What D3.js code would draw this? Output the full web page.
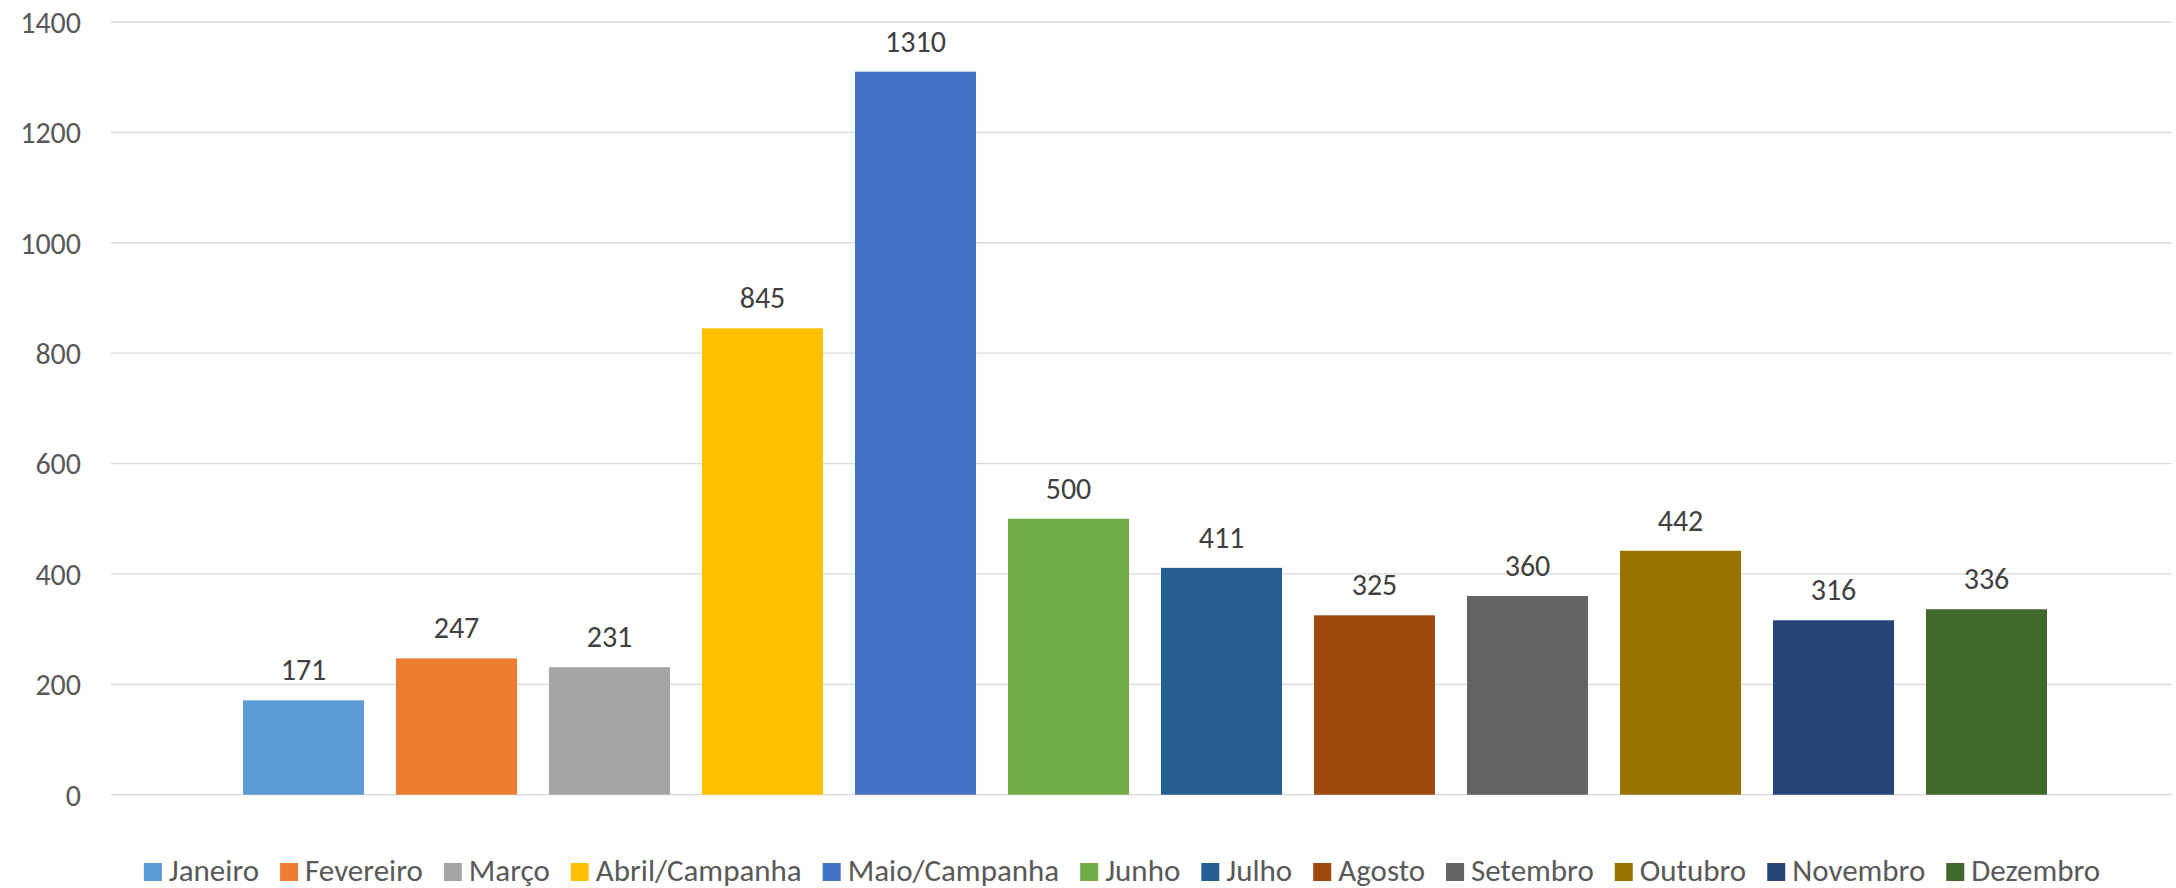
<!DOCTYPE html>
<html>
<head>
<meta charset="utf-8">
<script src="https://cdn.jsdelivr.net/npm/d3@7"></script>
<style>
    body { margin: 0; background: #fff; }
    svg { display: block; font-family: Carlito, Calibri, Lato, sans-serif; }
</style>
</head>
<body>
<svg width="2176" height="888"></svg>
<script>
const MONTHS = ['Janeiro', 'Fevereiro', 'Março', 'Abril/Campanha', 'Maio/Campanha', 'Junho',
    'Julho', 'Agosto', 'Setembro', 'Outubro', 'Novembro', 'Dezembro'];
const VALUES = [171, 247, 231, 845, 1310, 500, 411, 325, 360, 442, 316, 336];
const COLORS = ['#5B9BD5', '#ED7D31', '#A5A5A5', '#FFC000', '#4472C4', '#70AD47',
    '#255E91', '#9E480E', '#636363', '#997300', '#264478', '#43682B'];
const Y_TICKS = [0, 200, 400, 600, 800, 1000, 1200, 1400];

const svg = d3.select('svg');

const x = d3.scaleBand()
    .domain(MONTHS)
    .range([227, 2063])
    .paddingInner(0.209)
    .paddingOuter(0.1045);

const y = d3.scaleLinear()
    .domain([0, 1400])
    .range([794.7, 22]);

// gridlines
svg.append('g')
    .selectAll('line')
    .data(Y_TICKS)
    .enter()
    .append('line')
    .attr('x1', 111)
    .attr('x2', 2172)
    .attr('y1', d => y(d))
    .attr('y2', d => y(d))
    .attr('stroke', '#D9D9D9')
    .attr('stroke-width', 1.3);

// y axis labels
svg.append('g')
    .selectAll('text')
    .data(Y_TICKS)
    .enter()
    .append('text')
    .attr('x', 81)
    .attr('y', d => y(d))
    .attr('dy', '0.36em')
    .attr('text-anchor', 'end')
    .attr('fill', '#595959')
    .style('font-size', '30px')
    .text(d => d);

// bars
svg.append('g')
    .selectAll('rect')
    .data(VALUES)
    .enter()
    .append('rect')
    .attr('x', (d, i) => x(MONTHS[i]))
    .attr('y', d => y(d))
    .attr('width', x.bandwidth())
    .attr('height', d => y(0) - y(d))
    .attr('fill', (d, i) => COLORS[i]);

// value labels
svg.append('g')
    .selectAll('text')
    .data(VALUES)
    .enter()
    .append('text')
    .attr('x', (d, i) => x(MONTHS[i]) + x.bandwidth() / 2)
    .attr('y', d => y(d) - 20)
    .attr('text-anchor', 'middle')
    .attr('fill', '#404040')
    .style('font-size', '30px')
    .text(d => d);

// legend
const legend = svg.append('g').attr('id', 'legend');
const items = legend.selectAll('g')
    .data(MONTHS)
    .enter()
    .append('g');

items.append('rect')
    .attr('width', 18)
    .attr('height', 18)
    .attr('y', 863)
    .attr('fill', (d, i) => COLORS[i]);

items.append('text')
    .attr('x', 25)
    .attr('y', 881)
    .attr('fill', '#595959')
    .style('font-size', '31px')
    .text(d => d);

let pos = 0;
items.each(function () {
    const g = d3.select(this);
    g.attr('transform', `translate(${pos},0)`);
    pos += 25 + g.select('text').node().getComputedTextLength() + 21;
});
const total = pos - 21;
legend.attr('transform', `translate(${1122 - total / 2},0)`);
</script>
</body>
</html>
